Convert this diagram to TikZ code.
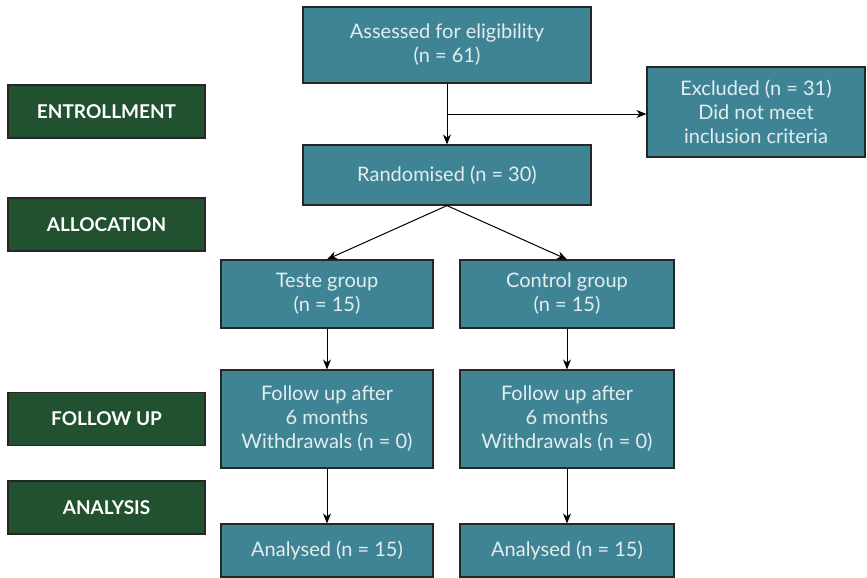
\documentclass[tikz,border=0pt]{standalone}
\usepackage{fontspec}
\setmainfont{Lato}
\usetikzlibrary{positioning,arrows.meta}
\definecolor{boxteal}{HTML}{3F8495}
\definecolor{phasegreen}{HTML}{21512F}
\definecolor{boxtext}{HTML}{E3EDEF}
\tikzset{stepbox/.style={draw=black!85, line width=1.2pt, fill=boxteal, text=boxtext, align=center, inner sep=0pt, font=\fontsize{20}{24}\selectfont}}
\tikzset{phase/.style={draw=black!85, line width=1.2pt, fill=phasegreen, text=white, inner sep=0pt, minimum width=197pt, minimum height=53pt, font=\bfseries\fontsize{19}{22}\selectfont}}
\tikzset{flow/.style={-{Stealth[length=10pt,width=8pt]}, line width=1pt}}

\begin{document}
\begin{tikzpicture}[x=1pt, y=-1pt]
                        \useasboundingbox (0,0) rectangle (867,578);

                        % phases
                        \node[phase] (enroll) at (106.5, 111.5) {ENTROLLMENT};
                        \node[phase] (alloc) at (106.5, 224.5) {ALLOCATION};
                        \node[phase] (follow) at (106.5, 419) {FOLLOW UP};
                        \node[phase] (analysis) at (106.5, 507.5) {ANALYSIS};

                        % flow boxes
                        \node[stepbox, minimum width=288pt, minimum height=76pt] (assess) at (447, 45) {Assessed for eligibility\\(n = 61)};
                        \node[stepbox, minimum width=288pt, minimum height=60pt] (rand) at (447, 175) {Randomised (n = 30)};
                        \node[stepbox, minimum width=218pt, minimum height=90pt] (excl) at (756, 112) {Excluded (n = 31)\\Did not meet\\inclusion criteria};
                        \node[stepbox, minimum width=212pt, minimum height=68pt] (teste) at (327, 294) {Teste group\\(n = 15)};
                        \node[stepbox, minimum width=214pt, minimum height=68pt] (ctrl) at (567, 294) {Control group\\(n = 15)};
                        \node[stepbox, minimum width=212pt, minimum height=98pt] (testefu) at (327, 419) {Follow up after\\6 months\\Withdrawals (n = 0)};
                        \node[stepbox, minimum width=214pt, minimum height=98pt] (ctrlfu) at (567, 419) {Follow up after\\6 months\\Withdrawals (n = 0)};
                        \node[stepbox, minimum width=212pt, minimum height=53pt] (testean) at (327, 550.5) {Analysed (n = 15)};
                        \node[stepbox, minimum width=214pt, minimum height=53pt] (ctrlan) at (567, 550.5) {Analysed (n = 15)};

                        \coordinate (split) at (447, 114);

                        \draw[flow] (assess) -- (rand);
                        \draw[flow] (split) -- (split -| excl.west);
                        \draw[flow] (rand.south) -- (teste.north);
                        \draw[flow] (rand.south) -- (ctrl.north);
                        \draw[flow] (teste) -- (testefu);
                        \draw[flow] (ctrl) -- (ctrlfu);
                        \draw[flow] (testefu) -- (testean);
                        \draw[flow] (ctrlfu) -- (ctrlan);
                    \end{tikzpicture}
\end{document}
